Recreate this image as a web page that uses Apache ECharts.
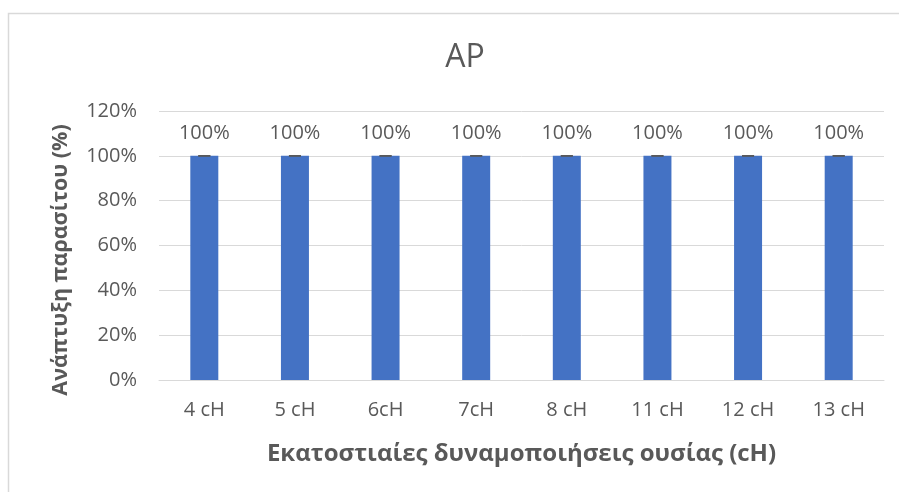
<!DOCTYPE html>
<html>
<head>
<meta charset="utf-8">
<script src="https://cdn.jsdelivr.net/npm/echarts@6/dist/echarts.min.js"></script>
<style>
  html, body { margin: 0; padding: 0; background: #fff; }
  #chart { width: 899px; height: 492px; }
</style>
</head>
<body>
<div id="chart"></div>
<script>
// Parasite growth per centesimal potency
const categories = ['4 cH', '5 cH', '6cH', '7cH', '8 cH', '11 cH', '12 cH', '13 cH'];
const growthPct = [100, 100, 100, 100, 100, 100, 100, 100];
const errorPct = [0, 0, 0, 0, 0, 0, 0, 0];
const yTicks = [0, 20, 40, 60, 80, 100, 120];

const FONT = '"Open Sans", "Noto Sans", sans-serif';
const TXT = '#595959';

const chart = echarts.init(document.getElementById('chart'), null, { renderer: 'canvas' });

chart.setOption({
  animation: false,
  backgroundColor: '#ffffff',
  graphic: [{
    type: 'rect',
    shape: { x: 8.5, y: 13.5, width: 1000, height: 1000 },
    style: { fill: 'none', stroke: '#d9d9d9', lineWidth: 1.5 },
    silent: true
  }, {
    // vertical axis title
    type: 'text',
    x: 61, y: 260,
    rotation: Math.PI / 2,
    style: {
      text: 'Ανάπτυξη παρασίτου (%)',
      align: 'center', verticalAlign: 'middle',
      fontFamily: FONT, fontSize: 21.5, fontWeight: 'bold', fill: TXT
    },
    silent: true
  }],
  title: {
    text: 'AP',
    left: 460, top: 37, textAlign: 'center',
    textStyle: { fontFamily: FONT, fontSize: 32, fontWeight: 'normal', color: TXT }
  },
  grid: { left: 159, right: 15, top: 111, bottom: 112 },
  xAxis: {
    type: 'category',
    data: categories,
    axisLine: { show: true, lineStyle: { color: '#d9d9d9', width: 1 } },
    axisTick: { show: false },
    axisLabel: { fontFamily: FONT, fontSize: 20, color: TXT, margin: 20 },
    name: 'Εκατοστιαίες δυναμοποιήσεις ουσίας (cH)',
    nameLocation: 'middle',
    nameGap: 62,
    nameTextStyle: { fontFamily: FONT, fontSize: 24, fontWeight: 'bold', color: TXT }
  },
  yAxis: {
    type: 'value',
    min: yTicks[0], max: yTicks[yTicks.length - 1], interval: 20,
    axisLine: { show: false },
    axisTick: { show: false },
    splitLine: { lineStyle: { color: '#d9d9d9', width: 1 } },
    axisLabel: { fontFamily: FONT, fontSize: 20, color: TXT, margin: 22, formatter: v => v + '%' }
  },
  series: [{
    type: 'bar',
    data: growthPct,
    barWidth: 28,
    itemStyle: { color: '#4472c4' },
    label: {
      show: true, position: 'top', distance: 13,
      fontFamily: FONT, fontSize: 20, color: TXT,
      formatter: p => p.value + '%'
    }
  }, {
    type: 'custom',
    data: growthPct.map((v, i) => [i, v, errorPct[i]]),
    encode: { x: 0, y: 1 },
    z: 5,
    renderItem: (params, api) => {
      const i = api.value(0), v = api.value(1), e = api.value(2);
      const hi = api.coord([i, v + e]);
      const lo = api.coord([i, v - e]);
      const w = 6;
      const st = { stroke: '#595959', lineWidth: 1.5 };
      return {
        type: 'group',
        children: [
          { type: 'line', shape: { x1: hi[0], y1: hi[1], x2: lo[0], y2: lo[1] }, style: st },
          { type: 'line', shape: { x1: hi[0] - w, y1: hi[1], x2: hi[0] + w, y2: hi[1] }, style: st },
          { type: 'line', shape: { x1: lo[0] - w, y1: lo[1], x2: lo[0] + w, y2: lo[1] }, style: st }
        ]
      };
    }
  }]
});
</script>
</body>
</html>
